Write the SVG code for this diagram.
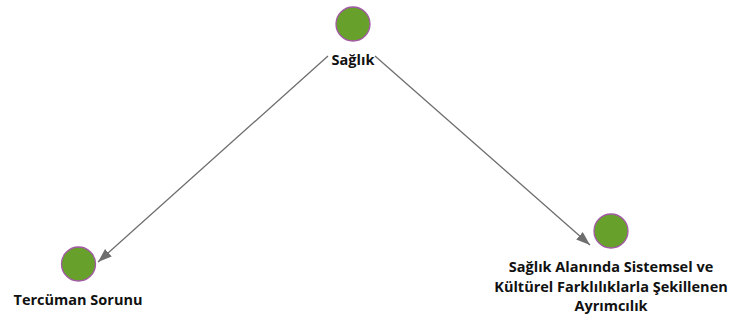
<svg xmlns="http://www.w3.org/2000/svg" width="731" height="322" viewBox="0 0 731 322">
<style>
.n{fill:#67a02a;stroke:#a35aa6;stroke-width:1.3}
.t{font-family:"Open Sans","Noto Sans",sans-serif;font-weight:bold;font-size:14.5px;fill:#111;text-anchor:middle}
.e{stroke:#6e6e6e;stroke-width:1.3;fill:none;marker-end:url(#a)}
</style>
<defs>
<marker id="a" viewBox="0 0 14 10" refX="14" refY="5" markerWidth="14" markerHeight="10" markerUnits="userSpaceOnUse" orient="auto">
<path d="M0,0 L14,5 L0,10 Z" fill="#6e6e6e"/>
</marker>
</defs>
<rect width="731" height="322" fill="#fff"/>
<g id="edges">
<line class="e" x1="328" y1="56" x2="98" y2="262"/>
<line class="e" x1="375" y1="56" x2="590" y2="245"/>
</g>
<g id="saglik">
<circle class="n" cx="353" cy="24" r="17"/>
<text class="t" x="353" y="65">Sağlık</text>
</g>
<g id="tercuman">
<circle class="n" cx="78.5" cy="264" r="17"/>
<text class="t" x="78" y="305">Tercüman Sorunu</text>
</g>
<g id="ayrimcilik">
<circle class="n" cx="611" cy="231" r="17"/>
<text class="t" x="611" y="272">Sağlık Alanında Sistemsel ve</text>
<text class="t" x="611" y="292">Kültürel Farklılıklarla Şekillenen</text>
<text class="t" x="611" y="311">Ayrımcılık</text>
</g>
</svg>
